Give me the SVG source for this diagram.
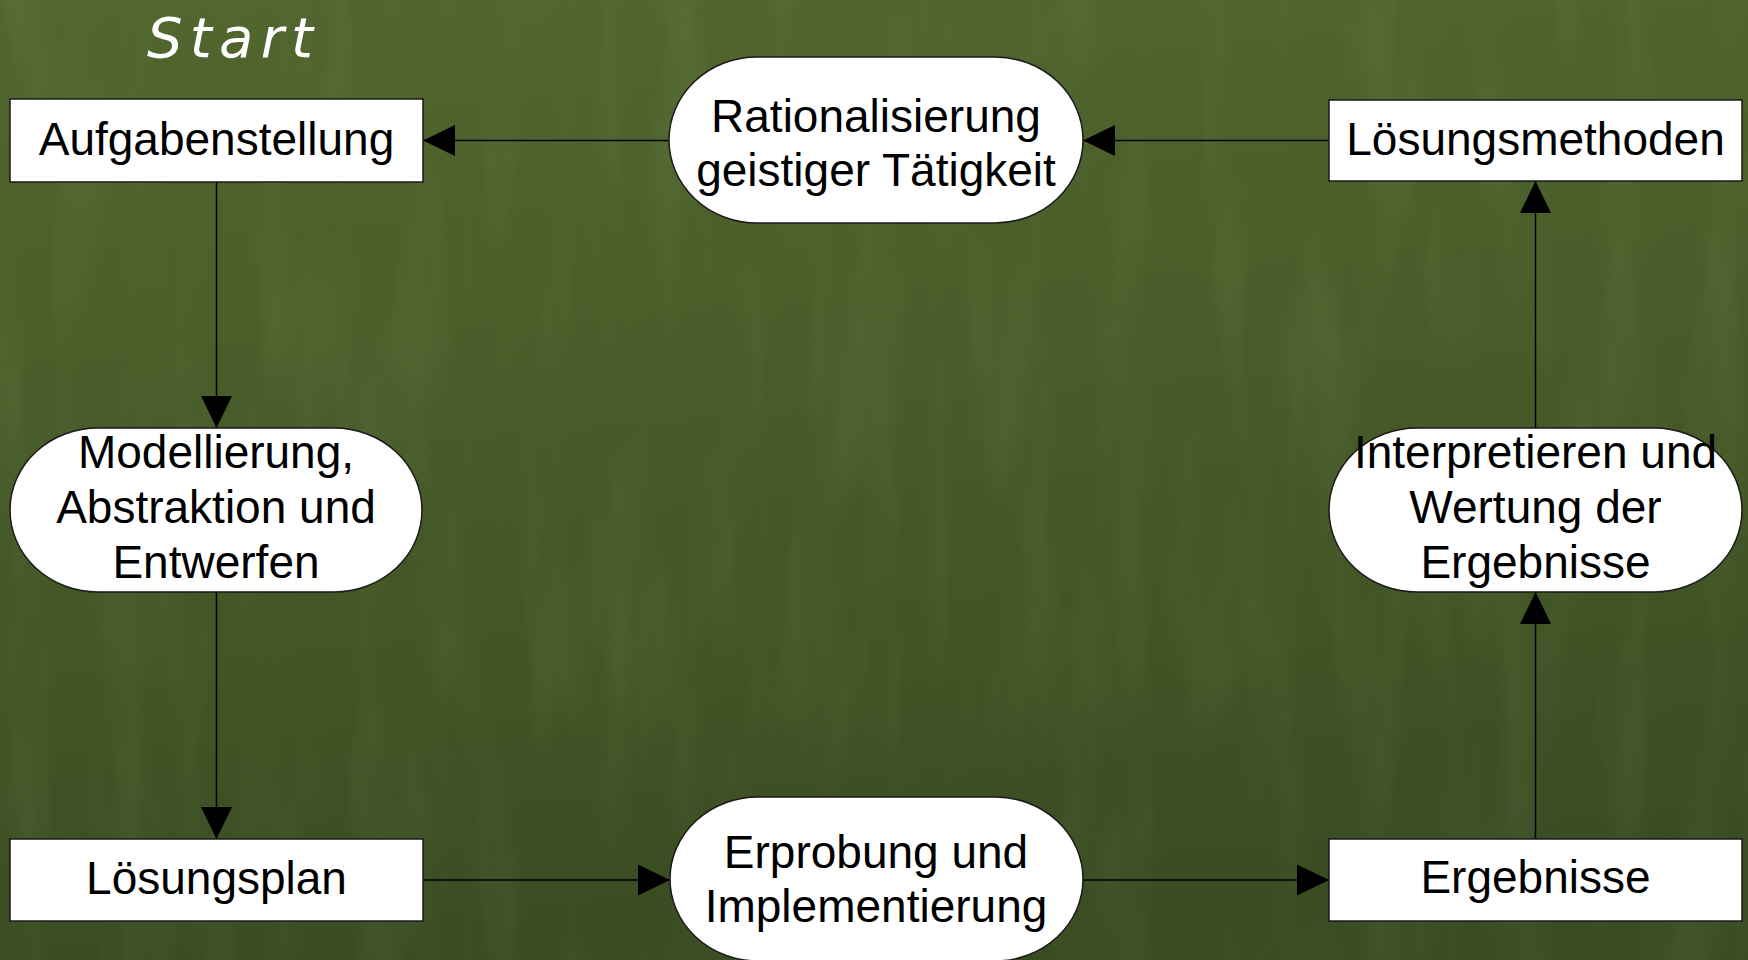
<svg xmlns="http://www.w3.org/2000/svg" width="1748" height="960" viewBox="0 0 1748 960">
  <defs>
    <linearGradient id="board" x1="0" y1="0" x2="0.15" y2="1">
      <stop offset="0" stop-color="#52662f"/>
      <stop offset="0.5" stop-color="#465b28"/>
      <stop offset="1" stop-color="#3a4c22"/>
    </linearGradient>
    <filter id="chalk" x="0" y="0" width="100%" height="100%">
      <feTurbulence type="fractalNoise" baseFrequency="0.02 0.004" numOctaves="3" seed="7" result="n"/>
      <feColorMatrix in="n" type="matrix" values="0 0 0 0 0.55  0 0 0 0 0.65  0 0 0 0 0.35  0 0 0 0.8 -0.35"/>
    </filter>
    <marker id="arrow" markerUnits="userSpaceOnUse" markerWidth="32" markerHeight="31" refX="32" refY="15.5" orient="auto">
      <path d="M0,0 L32,15.5 L0,31 Z" fill="#000"/>
    </marker>
    <style>
      .box { fill: #ffffff; stroke: #1a1a1a; stroke-width: 1.5; }
      .lbl { font-family: "Liberation Sans", Arial, sans-serif; font-size: 46px; fill: #000; text-anchor: middle; }
      .edge { fill: none; stroke: #000; stroke-width: 1.5; marker-end: url(#arrow); }
      .title { font-family: "DejaVu Sans", sans-serif; font-style: oblique; font-size: 56px; fill: #ffffff; }
    </style>
  </defs>

  <!-- chalkboard background -->
  <rect width="1748" height="960" fill="url(#board)"/>
  <rect width="1748" height="960" filter="url(#chalk)" opacity="0.2"/>

  <text class="title" x="147" y="57" textLength="166" lengthAdjust="spacing">Start</text>

  <!-- connectors -->
  <g id="connectors">
    <path class="edge" d="M1329,140.5 H1083"/>
    <path class="edge" d="M669,140.5 H423"/>
    <path class="edge" d="M216.5,182 V428"/>
    <path class="edge" d="M216.5,592 V839"/>
    <path class="edge" d="M423,880 H670"/>
    <path class="edge" d="M1083,880 H1329"/>
    <path class="edge" d="M1535.5,839 V592"/>
    <path class="edge" d="M1535.5,428 V181"/>
  </g>

  <g id="aufgabenstellung">
    <rect class="box" x="10" y="99" width="413" height="83"/>
    <text class="lbl" x="216.5" y="155">Aufgabenstellung</text>
  </g>

  <g id="rationalisierung">
    <rect class="box" x="669" y="57" width="414" height="166" rx="88" ry="83"/>
    <text class="lbl" x="876" y="132">Rationalisierung</text>
    <text class="lbl" x="876" y="186">geistiger Tätigkeit</text>
  </g>

  <g id="loesungsmethoden">
    <rect class="box" x="1329" y="100" width="413" height="81"/>
    <text class="lbl" x="1535.5" y="155">Lösungsmethoden</text>
  </g>

  <g id="modellierung">
    <rect class="box" x="10" y="428" width="412" height="164" rx="88" ry="82"/>
    <text class="lbl" x="216" y="468">Modellierung,</text>
    <text class="lbl" x="216" y="523">Abstraktion und</text>
    <text class="lbl" x="216" y="578">Entwerfen</text>
  </g>

  <g id="interpretieren">
    <rect class="box" x="1329" y="428" width="413" height="164" rx="88" ry="82"/>
    <text class="lbl" x="1535.5" y="468">Interpretieren und</text>
    <text class="lbl" x="1535.5" y="523">Wertung der</text>
    <text class="lbl" x="1535.5" y="578">Ergebnisse</text>
  </g>

  <g id="loesungsplan">
    <rect class="box" x="10" y="839" width="413" height="82"/>
    <text class="lbl" x="216.5" y="894">Lösungsplan</text>
  </g>

  <g id="erprobung">
    <rect class="box" x="670" y="797" width="413" height="164" rx="88" ry="82"/>
    <text class="lbl" x="876" y="868">Erprobung und</text>
    <text class="lbl" x="876" y="922">Implementierung</text>
  </g>

  <g id="ergebnisse">
    <rect class="box" x="1329" y="839" width="413" height="82"/>
    <text class="lbl" x="1535.5" y="893">Ergebnisse</text>
  </g>
</svg>
